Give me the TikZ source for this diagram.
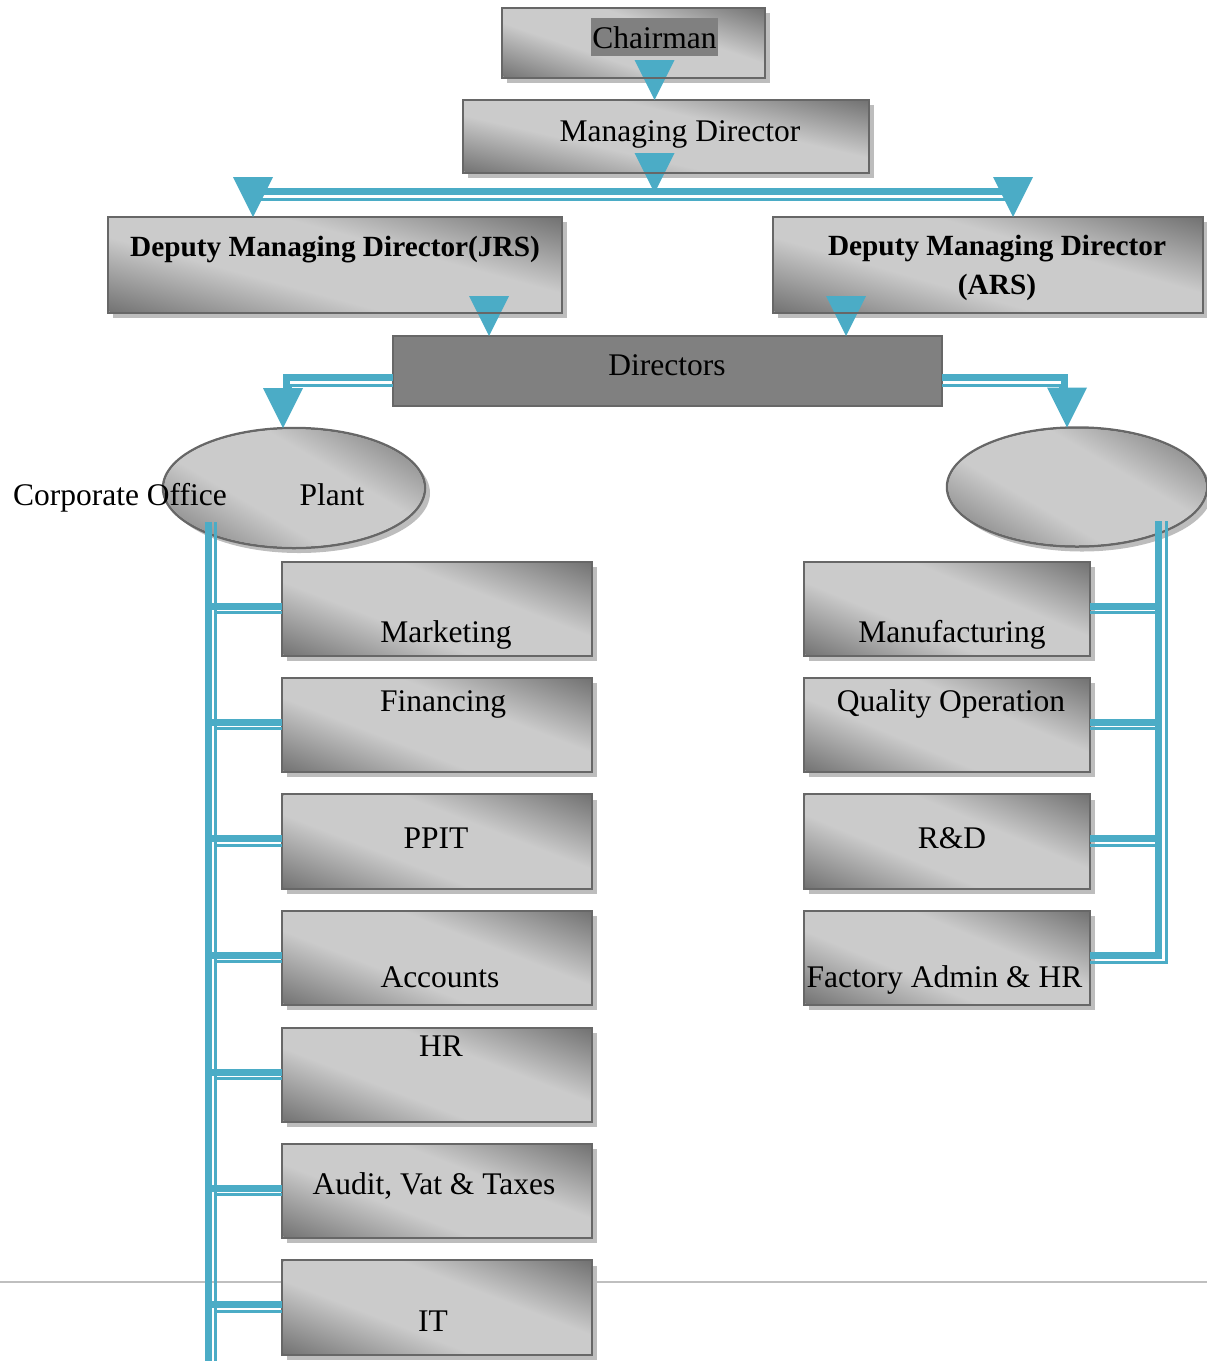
\documentclass[tikz,border=0pt]{standalone}
\usepackage{fontspec}
\setmainfont{Liberation Serif}
\usetikzlibrary{calc,shadows,shapes.geometric}

\definecolor{linkblue}{HTML}{4BACC6}
\definecolor{shadeDark}{HTML}{6A6A6A}
\definecolor{shadeLight}{HTML}{CBCBCB}
\definecolor{rim}{HTML}{676767}
\definecolor{flatgray}{HTML}{808080}
\definecolor{shadowgray}{HTML}{BDBDBD}
\definecolor{rulegray}{HTML}{BFBFBF}

% diagonal metallic fill: dark corners, light middle band
\pgfdeclarehorizontalshading{metal}{100bp}{color(0bp)=(shadeDark); color(15bp)=(shadeDark);
  color(40bp)=(shadeLight); color(60bp)=(shadeLight); color(85bp)=(shadeDark); color(100bp)=(shadeDark)}

\tikzset{
  unitbox/.style={draw=rim, line width=2.5pt, fill=shadeLight, outer sep=0pt,
    drop shadow={shadow xshift=5pt, shadow yshift=-5pt, fill=shadowgray, opacity=1},
    inner sep=0pt},
  orgbox/.style 2 args={unitbox, rectangle, minimum width=#1, minimum height=#2},
  orgoval/.style 2 args={unitbox, ellipse, minimum width=#1, minimum height=#2},
  flatbox/.style 2 args={draw=rim, line width=2.5pt, fill=flatgray, rectangle, outer sep=0pt,
    minimum width=#1, minimum height=#2, inner sep=0pt},
  rimline/.style={draw=rim, line width=2.5pt},
  txt/.style={inner sep=0pt, anchor=base, font=\fontsize{31.5}{38}\selectfont},
  boldtxt/.style={inner sep=0pt, anchor=base, font=\fontsize{29.3}{39}\selectfont\bfseries},
  thickc/.style={draw=linkblue, line width=7pt},
  thinc/.style={draw=linkblue, line width=3pt},
  tri/.style={fill=linkblue},
}
\newcommand\droptip[1]{\fill[tri] (#1) -- ++(-20,-40) -- ++(40,0) -- cycle;}

% lay the metallic shading inside a shape: the shading is made on a square and
% stretched to the shape, so the light band follows the shape's diagonal
\newcommand\metalsquare[3]{%
  \begin{scope}[transform canvas={shift={(#1.center)}, xscale=#2/100, yscale=#3/100}]
    \shade[shading=metal, shading angle=38] (-53,-53) rectangle (53,53);
  \end{scope}}
\newcommand\metalbox[3]{%
  \begin{scope}
    \clip ($(#1.north west)+(1.25,1.25)$) rectangle ($(#1.south east)+(-1.25,-1.25)$);
    \metalsquare{#1}{#2}{#3}
  \end{scope}}
\newcommand\metaloval[3]{%
  \begin{scope}
    \clip (#1.center) ellipse [x radius=#2/2-1.25, y radius=#3/2-1.25];
    \metalsquare{#1}{#2}{#3}
  \end{scope}}

\begin{document}
\begin{tikzpicture}[x=1pt,y=-1pt]
\useasboundingbox (0,0) rectangle (1207,1361);

% page rule running behind the last box
\draw[rulegray, line width=2pt] (0,1282) -- (1207,1282);

% top of the hierarchy
\node[orgbox={263}{70}] (chair) at (633.5,43) {};
\node[orgbox={406}{73}] (md) at (666,136.5) {};
\node[orgbox={454}{96}] (jrs) at (335,265) {};
\node[orgbox={430}{96}] (ars) at (988,265) {};
\node[flatbox={549}{70}] (dir) at (667.5,371) {};

% the two divisions
\node[orgoval={262}{120}] (plant) at (294,488) {};
\node[orgoval={260}{119}] (ell2) at (1077,487) {};

% corporate office departments
\node[orgbox={310}{94}] (mkt)  at (437,609) {};
\node[orgbox={310}{94}] (fin)  at (437,725) {};
\node[orgbox={310}{94}] (ppit) at (437,841.5) {};
\node[orgbox={310}{94}] (acc)  at (437,958) {};
\node[orgbox={310}{94}] (hr)   at (437,1075) {};
\node[orgbox={310}{94}] (avt)  at (437,1191) {};
\node[orgbox={310}{94}] (it)   at (437,1307.5) {};

% plant departments
\node[orgbox={286}{94}] (mfg) at (947,609) {};
\node[orgbox={286}{94}] (qop) at (947,725) {};
\node[orgbox={286}{94}] (rnd) at (947,841.5) {};
\node[orgbox={286}{94}] (fac) at (947,958) {};

% metallic fills
\foreach \n/\w/\h in {chair/263/70, md/406/73, jrs/454/96, ars/430/96,
    mkt/310/94, fin/310/94, ppit/310/94, acc/310/94, hr/310/94, avt/310/94, it/310/94,
    mfg/286/94, qop/286/94, rnd/286/94, fac/286/94}{\metalbox{\n}{\w}{\h}}
\metaloval{plant}{262}{120}
\metaloval{ell2}{260}{119}

% labels
\node[txt, fill=flatgray, inner xsep=1.5pt, text height=30.3pt, text depth=7.7pt] (chair-t) at (654.5,48.3) {Chairman};
\node[txt] (md-t) at (680,141) {Managing Director};
\node[boldtxt] (jrs-t) at (335,256) {Deputy Managing Director(JRS)};
\node[boldtxt] (ars-t1) at (997,255) {Deputy Managing Director};
\node[boldtxt] (ars-t2) at (997,294) {(ARS)};
\node[txt] (dir-t) at (667,375) {Directors};

% chairman -> managing director
\coordinate (md-in) at (chair-t.south |- md.north);
\droptip{md-in}

% managing director -> both deputies
\coordinate (md-out) at ($(md.south -| md-in)+(0,20)$);
\coordinate (jrs-in) at ($(jrs.north west)+(145,0)$);
\coordinate (ars-in) at ($(ars.north west)+(240,0)$);
\draw[thickc] ($(jrs-in)+(0,-26)$) -- ($(ars-in)+(0,-26)$);
\draw[thinc] ($(jrs-in)+(0,-17.5)$) -- ($(ars-in)+(0,-17.5)$);
\droptip{md-out}
\droptip{jrs-in}
\droptip{ars-in}

% deputies -> directors
\coordinate (dir-inL) at ($(dir.north west)+(96,0)$);
\coordinate (dir-inR) at ($(dir.north west)+(453,0)$);
\droptip{dir-inL}
\droptip{dir-inR}

% box bottoms stay on top of the arrowheads that start inside them
\foreach \n in {chair,md,jrs,ars}{\draw[rimline] (\n.south west) -- (\n.south east);}

% directors -> divisions
\coordinate (plant-in) at ($(plant.north)+(-11,0)$);
\coordinate (ell2-in) at ($(ell2.north)+(-10,0)$);
\draw[thickc] ($(dir.west)+(0,6.5)$) -| ($(plant-in)+(3,-39)$);
\draw[thinc] ($(dir.west)+(0,14)$) -| ($(plant-in)+(7,-39)$);
\draw[thickc] ($(dir.east)+(0,6.5)$) -| ($(ell2-in)+(-3,-39)$);
\draw[thinc] ($(dir.east)+(0,14)$) -| ($(ell2-in)+(-7,-39)$);
\droptip{plant-in}
\droptip{ell2-in}

% corporate office feeder
\coordinate (busL-top) at ($(plant.center)+(-85.5,34)$);
\coordinate (busL-end) at ($(busL-top)+(0,845)$);
\draw[thickc] (busL-top) -- (busL-end);
\draw[thinc] ($(busL-top)+(7,0)$) -- ($(busL-end)+(7,0)$);
\foreach \b in {mkt,fin,ppit,acc,hr,avt,it}{
  \draw[thickc] ($(\b.west)+(0,-3)$) -- ($(\b.west -| busL-top)+(0,-3)$);
  \draw[thinc] ($(\b.west)+(0,3.5)$) -- ($(\b.west -| busL-top)+(7,3.5)$);
}

% plant feeder
\coordinate (busR-top) at ($(ell2.center)+(81.5,34)$);
\foreach \b in {mfg,qop,rnd}{
  \draw[thickc] ($(\b.east)+(0,-3)$) -- ($(\b.east -| busR-top)+(0,-3)$);
  \draw[thinc] ($(\b.east)+(0,3.5)$) -- ($(\b.east -| busR-top)+(0,3.5)$);
}
\draw[thickc] ($(fac.east)+(0,-3)$) -| (busR-top);
\draw[thinc] ($(fac.east)+(0,4.5)$) -| ($(busR-top)+(8,0)$);

% division and department labels
\node[txt] (corp-t) at (120,505) {Corporate Office};
\node[txt] (plant-t) at (332,505) {Plant};
\node[txt] (mkt-t)  at (446,642) {Marketing};
\node[txt] (fin-t)  at (443,711) {Financing};
\node[txt] (ppit-t) at (436,848) {PPIT};
\node[txt] (acc-t)  at (440,987) {Accounts};
\node[txt] (hr-t)   at (441,1056) {HR};
\node[txt] (avt-t)  at (434,1194) {Audit, Vat \& Taxes};
\node[txt] (it-t)   at (433,1331) {IT};
\node[txt] (mfg-t)  at (952,642) {Manufacturing};
\node[txt] (qop-t)  at (951,711) {Quality Operation};
\node[txt] (rnd-t)  at (952,848) {R\&D};
\node[txt] (fac-t)  at (944.5,987) {Factory Admin \& HR};
\end{tikzpicture}
\end{document}
